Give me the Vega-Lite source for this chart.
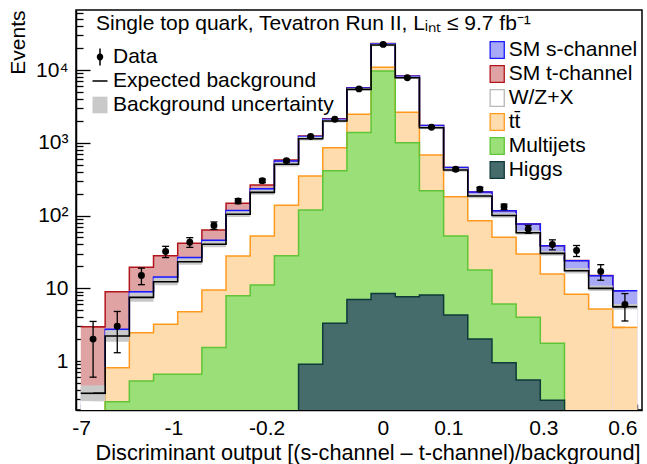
{
  "$schema": "https://vega.github.io/schema/vega-lite/v6.json",
  "width": 566,
  "height": 400,
  "autosize": {"type": "none"},
  "padding": {"left": 76, "top": 10, "right": 5, "bottom": 54},
  "background": "white",
  "title": {"text": "Single top quark, Tevatron Run II, L\u1d62\u2099\u209c \u2264 9.7 fb\u207b\u00b9", "anchor": "start", "frame": "group", "orient": "top", "offset": -32, "dx": 20, "fontSize": 21, "fontWeight": "normal", "color": "black", "font": "Liberation Sans"},
  "config": {
    "font": "Liberation Sans",
    "view": {"stroke": "black", "strokeWidth": 1.5},
    "axis": {"grid": false, "labelFontSize": 21, "titleFontSize": 21, "titleFontWeight": "normal", "labelColor": "black", "titleColor": "black", "domainColor": "black", "domainWidth": 1.5, "tickColor": "black", "tickWidth": 1.3, "labelFont": "Liberation Sans", "titleFont": "Liberation Sans"},
    "legend": {"labelFont": "Liberation Sans", "labelFontSize": 21, "labelColor": "black", "labelLimit": 400}
  },
  "datasets": {
    "stack": [
      {"bin":1,"proc":"Higgs","n":0.01},{"bin":1,"proc":"Multijets","n":0.01},{"bin":1,"proc":"tt\u0304","n":0.08},{"bin":1,"proc":"W/Z+X","n":0.26},{"bin":1,"proc":"SM s-channel","n":0.01},{"bin":1,"proc":"SM t-channel","n":2.59},
      {"bin":2,"proc":"Higgs","n":0.01},{"bin":2,"proc":"Multijets","n":0.266},{"bin":2,"proc":"tt\u0304","n":0.534},{"bin":2,"proc":"W/Z+X","n":1.40},{"bin":2,"proc":"SM s-channel","n":0.53},{"bin":2,"proc":"SM t-channel","n":6.23},
      {"bin":3,"proc":"Higgs","n":0.01},{"bin":3,"proc":"Multijets","n":0.52},{"bin":3,"proc":"tt\u0304","n":1.92},{"bin":3,"proc":"W/Z+X","n":5.05},{"bin":3,"proc":"SM s-channel","n":1.43},{"bin":3,"proc":"SM t-channel","n":10.47},
      {"bin":4,"proc":"Higgs","n":0.01},{"bin":4,"proc":"Multijets","n":0.65},{"bin":4,"proc":"tt\u0304","n":2.54},{"bin":4,"proc":"W/Z+X","n":9.1},{"bin":4,"proc":"SM s-channel","n":1.96},{"bin":4,"proc":"SM t-channel","n":13.74},
      {"bin":5,"proc":"Higgs","n":0.01},{"bin":5,"proc":"Multijets","n":0.65},{"bin":5,"proc":"tt\u0304","n":4.1},{"bin":5,"proc":"W/Z+X","n":18.44},{"bin":5,"proc":"SM s-channel","n":3.2},{"bin":5,"proc":"SM t-channel","n":15.1},
      {"bin":6,"proc":"Higgs","n":0.01},{"bin":6,"proc":"Multijets","n":1.53},{"bin":6,"proc":"tt\u0304","n":7.92},{"bin":6,"proc":"W/Z+X","n":30.74},{"bin":6,"proc":"SM s-channel","n":5.6},{"bin":6,"proc":"SM t-channel","n":17.4},
      {"bin":7,"proc":"Higgs","n":0.01},{"bin":7,"proc":"Multijets","n":7.89},{"bin":7,"proc":"tt\u0304","n":19.8},{"bin":7,"proc":"W/Z+X","n":76.3},{"bin":7,"proc":"SM s-channel","n":13.3},{"bin":7,"proc":"SM t-channel","n":29.7},
      {"bin":8,"proc":"Higgs","n":0.01},{"bin":8,"proc":"Multijets","n":11.09},{"bin":8,"proc":"tt\u0304","n":41.2},{"bin":8,"proc":"W/Z+X","n":155.7},{"bin":8,"proc":"SM s-channel","n":24.5},{"bin":8,"proc":"SM t-channel","n":29.5},
      {"bin":9,"proc":"Higgs","n":0.01},{"bin":9,"proc":"Multijets","n":27.99},{"bin":9,"proc":"tt\u0304","n":110},{"bin":9,"proc":"W/Z+X","n":368},{"bin":9,"proc":"SM s-channel","n":54},{"bin":9,"proc":"SM t-channel","n":19},
      {"bin":10,"proc":"Higgs","n":0.9},{"bin":10,"proc":"Multijets","n":118.1},{"bin":10,"proc":"tt\u0304","n":230},{"bin":10,"proc":"W/Z+X","n":788},{"bin":10,"proc":"SM s-channel","n":78},{"bin":10,"proc":"SM t-channel","n":23},
      {"bin":11,"proc":"Higgs","n":3.3},{"bin":11,"proc":"Multijets","n":407.7},{"bin":11,"proc":"tt\u0304","n":444},{"bin":11,"proc":"W/Z+X","n":1135},{"bin":11,"proc":"SM s-channel","n":110},{"bin":11,"proc":"SM t-channel","n":30},
      {"bin":12,"proc":"Higgs","n":7.0},{"bin":12,"proc":"Multijets","n":1373},{"bin":12,"proc":"tt\u0304","n":1090},{"bin":12,"proc":"W/Z+X","n":2950},{"bin":12,"proc":"SM s-channel","n":230},{"bin":12,"proc":"SM t-channel","n":50},
      {"bin":13,"proc":"Higgs","n":8.5},{"bin":13,"proc":"Multijets","n":9671.5},{"bin":13,"proc":"tt\u0304","n":1220},{"bin":13,"proc":"W/Z+X","n":11200},{"bin":13,"proc":"SM s-channel","n":900},{"bin":13,"proc":"SM t-channel","n":100},
      {"bin":14,"proc":"Higgs","n":7.65},{"bin":14,"proc":"Multijets","n":994.35},{"bin":14,"proc":"tt\u0304","n":1618},{"bin":14,"proc":"W/Z+X","n":5220},{"bin":14,"proc":"SM s-channel","n":360},{"bin":14,"proc":"SM t-channel","n":50},
      {"bin":15,"proc":"Higgs","n":8.07},{"bin":15,"proc":"Multijets","n":210.93},{"bin":15,"proc":"tt\u0304","n":460},{"bin":15,"proc":"W/Z+X","n":931},{"bin":15,"proc":"SM s-channel","n":110},{"bin":15,"proc":"SM t-channel","n":10},
      {"bin":16,"proc":"Higgs","n":4.29},{"bin":16,"proc":"Multijets","n":48.01},{"bin":16,"proc":"tt\u0304","n":128.7},{"bin":16,"proc":"W/Z+X","n":241},{"bin":16,"proc":"SM s-channel","n":34},{"bin":16,"proc":"SM t-channel","n":2},
      {"bin":17,"proc":"Higgs","n":2.0},{"bin":17,"proc":"Multijets","n":15.8},{"bin":17,"proc":"tt\u0304","n":67.1},{"bin":17,"proc":"W/Z+X","n":100.1},{"bin":17,"proc":"SM s-channel","n":25},{"bin":17,"proc":"SM t-channel","n":1},
      {"bin":18,"proc":"Higgs","n":0.95},{"bin":18,"proc":"Multijets","n":5.13},{"bin":18,"proc":"tt\u0304","n":44.12},{"bin":18,"proc":"W/Z+X","n":49.8},{"bin":18,"proc":"SM s-channel","n":16},{"bin":18,"proc":"SM t-channel","n":0.3},
      {"bin":19,"proc":"Higgs","n":0.55},{"bin":19,"proc":"Multijets","n":3.45},{"bin":19,"proc":"tt\u0304","n":25.6},{"bin":19,"proc":"W/Z+X","n":28.4},{"bin":19,"proc":"SM s-channel","n":18.4},{"bin":19,"proc":"SM t-channel","n":0.1},
      {"bin":20,"proc":"Higgs","n":0.29},{"bin":20,"proc":"Multijets","n":1.46},{"bin":20,"proc":"tt\u0304","n":13.95},{"bin":20,"proc":"W/Z+X","n":14.5},{"bin":20,"proc":"SM s-channel","n":8.2},{"bin":20,"proc":"SM t-channel","n":0.1},
      {"bin":21,"proc":"Higgs","n":0.01},{"bin":21,"proc":"Multijets","n":0.01},{"bin":21,"proc":"tt\u0304","n":8.24},{"bin":21,"proc":"W/Z+X","n":9.14},{"bin":21,"proc":"SM s-channel","n":6.5},{"bin":21,"proc":"SM t-channel","n":0.1},
      {"bin":22,"proc":"Higgs","n":0.01},{"bin":22,"proc":"Multijets","n":0.01},{"bin":22,"proc":"tt\u0304","n":5.17},{"bin":22,"proc":"W/Z+X","n":4.79},{"bin":22,"proc":"SM s-channel","n":4.92},{"bin":22,"proc":"SM t-channel","n":0.05},
      {"bin":23,"proc":"Higgs","n":0.01},{"bin":23,"proc":"Multijets","n":0.01},{"bin":23,"proc":"tt\u0304","n":2.88},{"bin":23,"proc":"W/Z+X","n":2.68},{"bin":23,"proc":"SM s-channel","n":3.67},{"bin":23,"proc":"SM t-channel","n":0.03}
    ],
    "bins": [
      {"bin":1,"data":2,"dlo":0.6,"dhi":3.5,"ulo":0.281,"uhi":0.461},
      {"bin":2,"data":3,"dlo":1.3,"dhi":4.8,"ulo":1.842,"uhi":2.652},
      {"bin":3,"data":15,"dlo":11.2,"dhi":18.9,"ulo":6.52,"uhi":8.63},
      {"bin":4,"data":32,"dlo":26.4,"dhi":37.7,"ulo":10.98,"uhi":13.78},
      {"bin":5,"data":43,"dlo":36.5,"dhi":49.6,"ulo":21.09,"uhi":25.52},
      {"bin":6,"data":73,"dlo":64.5,"dhi":81.5,"ulo":36.55,"uhi":44.22},
      {"bin":7,"data":158,"dlo":145.4,"dhi":170.6,"ulo":95.4,"uhi":113.4},
      {"bin":8,"data":300,"dlo":282.7,"dhi":317.3,"ulo":192.6,"uhi":224.6},
      {"bin":9,"data":565,"dlo":541,"dhi":589,"ulo":472.9,"uhi":541.4},
      {"bin":10,"data":1220,"dlo":1185,"dhi":1255,"ulo":1072.6,"uhi":1205.2},
      {"bin":11,"data":2100,"dlo":2054,"dhi":2146,"ulo":1895,"uhi":2090},
      {"bin":12,"data":5500,"dlo":5426,"dhi":5574,"ulo":5212,"uhi":5637},
      {"bin":13,"data":22500,"dlo":22350,"dhi":22650,"ulo":21250,"uhi":22984},
      {"bin":14,"data":7840,"dlo":7751,"dhi":7929,"ulo":7538,"uhi":8154},
      {"bin":15,"data":1630,"dlo":1590,"dhi":1670,"ulo":1533,"uhi":1690},
      {"bin":16,"data":432,"dlo":411,"dhi":453,"ulo":398.1,"uhi":447.3},
      {"bin":17,"data":229,"dlo":214,"dhi":244,"ulo":172.9,"uhi":198},
      {"bin":18,"data":132,"dlo":120.5,"dhi":143.5,"ulo":93.5,"uhi":107},
      {"bin":19,"data":65,"dlo":57,"dhi":73,"ulo":54.2,"uhi":62.1},
      {"bin":20,"data":40,"dlo":33.7,"dhi":46.3,"ulo":27.96,"uhi":32.6},
      {"bin":21,"data":33,"dlo":27.3,"dhi":38.7,"ulo":15.96,"uhi":18.97},
      {"bin":22,"data":17,"dlo":12.9,"dhi":21.1,"ulo":9.16,"uhi":10.88},
      {"bin":23,"data":6,"dlo":3.55,"dhi":8.45,"ulo":5.12,"uhi":6.08}
    ]
  },
  "layer": [
    {
      "data": {"name": "stack"},
      "transform": [{"stack": "n", "groupby": ["bin"], "as": ["lo", "hi"]}, {"filter": {"field": "proc", "equal": "SM t-channel"}}],
      "mark": {"type": "area", "interpolate": "step", "clip": true, "fill": "#e0a3a3", "strokeWidth": 0},
      "encoding": {
        "x": {"field": "bin", "type": "quantitative", "scale": {"domain": [0.5, 23.5], "nice": false, "zero": false},
          "axis": {"title": "Discriminant output [(s-channel \u2013 t-channel)/background]", "values": [0.5, 4.32, 8.18, 12.99, 15.7, 19.63, 23.5],
            "labelExpr": "datum.value < 1 ? '-7' : datum.value < 5 ? '-1' : datum.value < 9 ? '-0.2' : datum.value < 14 ? '0' : datum.value < 17 ? '0.1' : datum.value < 21 ? '0.3' : '0.6'",
            "tickSize": -6, "labelPadding": 13, "labelAngle": 0, "labelFlush": false, "labelOverlap": false,
            "labelAlign": {"condition": {"test": "datum.value > 23", "value": "right"}, "value": "center"},
            "titleAnchor": "end", "titleAlign": "right", "titleX": 564, "titleY": 49, "titleBaseline": "alphabetic", "titleFontSize": 21.7}},
        "y": {"field": "hi", "type": "quantitative", "stack": null, "scale": {"type": "log", "domain": [0.2122, 66800], "nice": false},
          "axis": {"title": "Events", "values": [0.3,0.4,0.5,0.6,0.7,0.8,0.9,1,2,3,4,5,6,7,8,9,10,20,30,40,50,60,70,80,90,100,200,300,400,500,600,700,800,900,1000,2000,3000,4000,5000,6000,7000,8000,9000,10000,20000,30000,40000,50000,60000],
            "labelExpr": "datum.value == 1 ? '1' : datum.value == 10 ? '10' : datum.value == 100 ? '10\u00b2' : datum.value == 1000 ? '10\u00b3' : datum.value == 10000 ? '10\u2074' : ''",
            "tickSize": {"condition": {"test": "datum.value == 1 || datum.value == 10 || datum.value == 100 || datum.value == 1000 || datum.value == 10000", "value": -14}, "value": -7},
            "labelPadding": 22, "labelOverlap": false, "labelFlush": false,
            "titleAngle": 270, "titleAlign": "right", "titleBaseline": "middle", "titleX": -58, "titleY": 0}}
      }
    },
    {
      "data": {"name": "stack"},
      "transform": [{"stack": "n", "groupby": ["bin"], "as": ["lo", "hi"]}, {"filter": {"field": "proc", "equal": "SM s-channel"}}],
      "mark": {"type": "area", "interpolate": "step", "clip": true, "fill": "#a9aaf7", "strokeWidth": 0},
      "encoding": {
        "x": {"field": "bin", "type": "quantitative", "scale": {"domain": [0.5, 23.5], "nice": false, "zero": false}},
        "y": {"field": "hi", "type": "quantitative", "stack": null, "title": "Events", "scale": {"type": "log", "domain": [0.2122, 66800], "nice": false}}
      }
    },
    {
      "data": {"name": "stack"},
      "transform": [{"stack": "n", "groupby": ["bin"], "as": ["lo", "hi"]}, {"filter": {"field": "proc", "equal": "W/Z+X"}}],
      "mark": {"type": "area", "interpolate": "step", "clip": true, "fill": "#ffffff", "strokeWidth": 0},
      "encoding": {
        "x": {"field": "bin", "type": "quantitative", "scale": {"domain": [0.5, 23.5], "nice": false, "zero": false}},
        "y": {"field": "hi", "type": "quantitative", "stack": null, "title": "Events", "scale": {"type": "log", "domain": [0.2122, 66800], "nice": false}}
      }
    },
    {
      "data": {"name": "stack"},
      "transform": [{"stack": "n", "groupby": ["bin"], "as": ["lo", "hi"]}, {"filter": {"field": "proc", "equal": "tt\u0304"}}],
      "mark": {"type": "area", "interpolate": "step", "clip": true, "fill": "#ffdcae", "strokeWidth": 0},
      "encoding": {
        "x": {"field": "bin", "type": "quantitative", "scale": {"domain": [0.5, 23.5], "nice": false, "zero": false}},
        "y": {"field": "hi", "type": "quantitative", "stack": null, "title": "Events", "scale": {"type": "log", "domain": [0.2122, 66800], "nice": false}}
      }
    },
    {
      "data": {"name": "stack"},
      "transform": [{"stack": "n", "groupby": ["bin"], "as": ["lo", "hi"]}, {"filter": {"field": "proc", "equal": "Multijets"}}],
      "mark": {"type": "area", "interpolate": "step", "clip": true, "fill": "#9adf78", "strokeWidth": 0},
      "encoding": {
        "x": {"field": "bin", "type": "quantitative", "scale": {"domain": [0.5, 23.5], "nice": false, "zero": false}},
        "y": {"field": "hi", "type": "quantitative", "stack": null, "title": "Events", "scale": {"type": "log", "domain": [0.2122, 66800], "nice": false}}
      }
    },
    {
      "data": {"name": "stack"},
      "transform": [{"stack": "n", "groupby": ["bin"], "as": ["lo", "hi"]}, {"filter": {"field": "proc", "equal": "Higgs"}}],
      "mark": {"type": "area", "interpolate": "step", "clip": true, "fill": "#466b6b", "strokeWidth": 0},
      "encoding": {
        "x": {"field": "bin", "type": "quantitative", "scale": {"domain": [0.5, 23.5], "nice": false, "zero": false}},
        "y": {"field": "hi", "type": "quantitative", "stack": null, "title": "Events", "scale": {"type": "log", "domain": [0.2122, 66800], "nice": false}}
      }
    },
    {
      "data": {"name": "stack"},
      "transform": [{"stack": "n", "groupby": ["bin"], "as": ["lo", "hi"]}, {"filter": "datum.bin == 1 || datum.bin == 23"}],
      "mark": {"type": "bar", "width": 24.6087, "clip": true, "strokeWidth": 0},
      "encoding": {
        "x": {"field": "bin", "type": "quantitative", "scale": {"domain": [0.5, 23.5], "nice": false, "zero": false}},
        "y": {"field": "hi", "type": "quantitative", "stack": null, "title": "Events", "scale": {"type": "log", "domain": [0.2122, 66800], "nice": false}},
        "fill": {"field": "proc", "type": "nominal", "scale": {"domain": ["SM s-channel", "SM t-channel", "W/Z+X", "tt\u0304", "Multijets", "Higgs"], "range": ["#a9aaf7", "#e0a3a3", "#ffffff", "#ffdcae", "#9adf78", "#466b6b"]},
          "legend": {"title": null, "orient": "none", "legendX": 410.7, "legendY": 29.5, "direction": "vertical", "symbolSize": 276, "symbolType": "M-0.85,-1H0.85V1H-0.85Z", "labelOffset": 1, "rowPadding": 1, "padding": 0, "symbolOpacity": 1, "symbolStrokeWidth": 1.3}},
        "order": {"field": "hi", "sort": "descending"}
      }
    },
    {
      "data": {"name": "stack"},
      "transform": [{"stack": "n", "groupby": ["bin"], "as": ["lo", "hi"]}, {"filter": {"field": "proc", "equal": "SM t-channel"}}],
      "mark": {"type": "line", "interpolate": "step", "clip": true, "stroke": "#b3141b", "strokeWidth": 1.5},
      "encoding": {
        "x": {"field": "bin", "type": "quantitative", "scale": {"domain": [0.5, 23.5], "nice": false, "zero": false}},
        "y": {"field": "hi", "type": "quantitative", "title": "Events", "scale": {"type": "log", "domain": [0.2122, 66800], "nice": false}}
      }
    },
    {
      "data": {"name": "stack"},
      "transform": [{"stack": "n", "groupby": ["bin"], "as": ["lo", "hi"]}, {"filter": "datum.proc == 'SM t-channel' && datum.bin == 1"}],
      "mark": {"type": "tick", "orient": "horizontal", "size": 24.6, "thickness": 1.5, "color": "#b3141b", "opacity": 1, "clip": true},
      "encoding": {
        "x": {"field": "bin", "type": "quantitative", "scale": {"domain": [0.5, 23.5], "nice": false, "zero": false}},
        "y": {"field": "hi", "type": "quantitative", "title": "Events", "scale": {"type": "log", "domain": [0.2122, 66800], "nice": false}}
      }
    },
    {
      "data": {"name": "stack"},
      "transform": [{"stack": "n", "groupby": ["bin"], "as": ["lo", "hi"]}, {"filter": {"field": "proc", "equal": "SM s-channel"}}],
      "mark": {"type": "line", "interpolate": "step", "clip": true, "stroke": "#1a1aff", "strokeWidth": 1.5},
      "encoding": {
        "x": {"field": "bin", "type": "quantitative", "scale": {"domain": [0.5, 23.5], "nice": false, "zero": false}},
        "y": {"field": "hi", "type": "quantitative", "title": "Events", "scale": {"type": "log", "domain": [0.2122, 66800], "nice": false}}
      }
    },
    {
      "data": {"name": "stack"},
      "transform": [{"stack": "n", "groupby": ["bin"], "as": ["lo", "hi"]}, {"filter": "datum.proc == 'SM s-channel' && datum.bin == 23"}],
      "mark": {"type": "tick", "orient": "horizontal", "size": 24.6, "thickness": 1.5, "color": "#1a1aff", "opacity": 1, "clip": true},
      "encoding": {
        "x": {"field": "bin", "type": "quantitative", "scale": {"domain": [0.5, 23.5], "nice": false, "zero": false}},
        "y": {"field": "hi", "type": "quantitative", "title": "Events", "scale": {"type": "log", "domain": [0.2122, 66800], "nice": false}}
      }
    },
    {
      "data": {"name": "stack"},
      "transform": [{"stack": "n", "groupby": ["bin"], "as": ["lo", "hi"]}, {"filter": {"field": "proc", "equal": "tt\u0304"}}],
      "mark": {"type": "line", "interpolate": "step", "clip": true, "stroke": "#ff9a1f", "strokeWidth": 1.5},
      "encoding": {
        "x": {"field": "bin", "type": "quantitative", "scale": {"domain": [0.5, 23.5], "nice": false, "zero": false}},
        "y": {"field": "hi", "type": "quantitative", "title": "Events", "scale": {"type": "log", "domain": [0.2122, 66800], "nice": false}}
      }
    },
    {
      "data": {"name": "stack"},
      "transform": [{"stack": "n", "groupby": ["bin"], "as": ["lo", "hi"]}, {"filter": "datum.proc == 'tt\u0304' && datum.bin == 23"}],
      "mark": {"type": "tick", "orient": "horizontal", "size": 24.6, "thickness": 1.5, "color": "#ff9a1f", "opacity": 1, "clip": true},
      "encoding": {
        "x": {"field": "bin", "type": "quantitative", "scale": {"domain": [0.5, 23.5], "nice": false, "zero": false}},
        "y": {"field": "hi", "type": "quantitative", "title": "Events", "scale": {"type": "log", "domain": [0.2122, 66800], "nice": false}}
      }
    },
    {
      "data": {"name": "stack"},
      "transform": [{"stack": "n", "groupby": ["bin"], "as": ["lo", "hi"]}, {"filter": {"field": "proc", "equal": "Multijets"}}],
      "mark": {"type": "line", "interpolate": "step", "clip": true, "stroke": "#5fc536", "strokeWidth": 1.5},
      "encoding": {
        "x": {"field": "bin", "type": "quantitative", "scale": {"domain": [0.5, 23.5], "nice": false, "zero": false}},
        "y": {"field": "hi", "type": "quantitative", "title": "Events", "scale": {"type": "log", "domain": [0.2122, 66800], "nice": false}}
      }
    },
    {
      "data": {"name": "stack"},
      "transform": [{"stack": "n", "groupby": ["bin"], "as": ["lo", "hi"]}, {"filter": {"field": "proc", "equal": "Higgs"}}],
      "mark": {"type": "line", "interpolate": "step", "clip": true, "stroke": "#0e3a3a", "strokeWidth": 1.5},
      "encoding": {
        "x": {"field": "bin", "type": "quantitative", "scale": {"domain": [0.5, 23.5], "nice": false, "zero": false}},
        "y": {"field": "hi", "type": "quantitative", "title": "Events", "scale": {"type": "log", "domain": [0.2122, 66800], "nice": false}}
      }
    },
    {
      "data": {"name": "bins"},
      "mark": {"type": "area", "interpolate": "step", "clip": true, "fill": "#c9c9c9", "strokeWidth": 0},
      "encoding": {
        "x": {"field": "bin", "type": "quantitative", "scale": {"domain": [0.5, 23.5], "nice": false, "zero": false}},
        "y": {"field": "uhi", "type": "quantitative", "title": "Events", "scale": {"type": "log", "domain": [0.2122, 66800], "nice": false}},
        "y2": {"field": "ulo"}
      }
    },
    {
      "data": {"name": "bins"},
      "transform": [{"filter": "datum.bin == 1 || datum.bin == 23"}],
      "mark": {"type": "bar", "width": 24.6087, "clip": true, "fill": "#c9c9c9", "strokeWidth": 0},
      "encoding": {
        "x": {"field": "bin", "type": "quantitative", "scale": {"domain": [0.5, 23.5], "nice": false, "zero": false}},
        "y": {"field": "uhi", "type": "quantitative", "title": "Events", "scale": {"type": "log", "domain": [0.2122, 66800], "nice": false}},
        "y2": {"field": "ulo"}
      }
    },
    {
      "data": {"name": "stack"},
      "transform": [{"stack": "n", "groupby": ["bin"], "as": ["lo", "hi"]}, {"filter": {"field": "proc", "equal": "W/Z+X"}}],
      "mark": {"type": "line", "interpolate": "step", "clip": true, "stroke": "black", "strokeWidth": 1.6},
      "encoding": {
        "x": {"field": "bin", "type": "quantitative", "scale": {"domain": [0.5, 23.5], "nice": false, "zero": false}},
        "y": {"field": "hi", "type": "quantitative", "title": "Events", "scale": {"type": "log", "domain": [0.2122, 66800], "nice": false}}
      }
    },
    {
      "data": {"name": "stack"},
      "transform": [{"stack": "n", "groupby": ["bin"], "as": ["lo", "hi"]}, {"filter": "datum.proc == 'W/Z+X' && (datum.bin == 1 || datum.bin == 23)"}],
      "mark": {"type": "tick", "orient": "horizontal", "size": 24.6, "thickness": 1.6, "color": "black", "opacity": 1, "clip": true},
      "encoding": {
        "x": {"field": "bin", "type": "quantitative", "scale": {"domain": [0.5, 23.5], "nice": false, "zero": false}},
        "y": {"field": "hi", "type": "quantitative", "title": "Events", "scale": {"type": "log", "domain": [0.2122, 66800], "nice": false}}
      }
    },
    {
      "data": {"name": "bins"},
      "mark": {"type": "rule", "color": "black", "strokeWidth": 1.3, "clip": true},
      "encoding": {
        "x": {"field": "bin", "type": "quantitative", "scale": {"domain": [0.5, 23.5], "nice": false, "zero": false}},
        "y": {"field": "dlo", "type": "quantitative", "title": "Events", "scale": {"type": "log", "domain": [0.2122, 66800], "nice": false}},
        "y2": {"field": "dhi"}
      }
    },
    {
      "data": {"name": "bins"},
      "mark": {"type": "tick", "orient": "horizontal", "size": 7, "thickness": 1.3, "color": "black", "opacity": 1, "clip": true},
      "encoding": {
        "x": {"field": "bin", "type": "quantitative", "scale": {"domain": [0.5, 23.5], "nice": false, "zero": false}},
        "y": {"field": "dlo", "type": "quantitative", "title": "Events", "scale": {"type": "log", "domain": [0.2122, 66800], "nice": false}}
      }
    },
    {
      "data": {"name": "bins"},
      "mark": {"type": "tick", "orient": "horizontal", "size": 7, "thickness": 1.3, "color": "black", "opacity": 1, "clip": true},
      "encoding": {
        "x": {"field": "bin", "type": "quantitative", "scale": {"domain": [0.5, 23.5], "nice": false, "zero": false}},
        "y": {"field": "dhi", "type": "quantitative", "title": "Events", "scale": {"type": "log", "domain": [0.2122, 66800], "nice": false}}
      }
    },
    {
      "data": {"name": "bins"},
      "mark": {"type": "point", "filled": true, "color": "black", "size": 48, "opacity": 1, "strokeWidth": 0, "clip": true},
      "encoding": {
        "x": {"field": "bin", "type": "quantitative", "scale": {"domain": [0.5, 23.5], "nice": false, "zero": false}},
        "y": {"field": "data", "type": "quantitative", "title": "Events", "scale": {"type": "log", "domain": [0.2122, 66800], "nice": false}}
      }
    },
    {
      "data": {"values": [{"leg": "Data"}, {"leg": "Expected background"}, {"leg": "Background uncertainty"}]},
      "transform": [{"filter": "false"}],
      "mark": {"type": "point", "filled": true, "opacity": 1, "strokeWidth": 0},
      "encoding": {
        "color": {"field": "leg", "type": "nominal",
          "scale": {"domain": ["Data", "Expected background", "Background uncertainty"], "range": ["black", "black", "#c9c9c9"]},
          "legend": {"title": null, "orient": "none", "legendX": 13.5, "legendY": 36.5, "direction": "vertical", "symbolSize": 289, "labelOffset": 2.5, "rowPadding": 2, "padding": 0, "symbolOpacity": 1, "symbolStrokeWidth": 0}},
        "shape": {"field": "leg", "type": "nominal",
          "scale": {"domain": ["Data", "Expected background", "Background uncertainty"], "range": ["M-0.09,-1H0.09V-0.4A0.42,0.42 0 0 1 0.09,0.4V1H-0.09V0.4A0.42,0.42 0 0 1 -0.09,-0.4Z", "M-0.88,-0.09H0.88V0.09H-0.88Z", "M-0.88,-0.98H0.88V0.98H-0.88Z"]},
          "legend": {"title": null, "orient": "none", "legendX": 13.5, "legendY": 36.5, "direction": "vertical", "symbolSize": 289, "labelOffset": 2.5, "rowPadding": 2, "padding": 0, "symbolOpacity": 1, "symbolStrokeWidth": 0}}
      }
    },
    {
      "data": {"values": [{"proc": "Higgs"}]},
      "transform": [{"filter": "false"}],
      "mark": {"type": "point", "filled": true, "opacity": 1, "strokeWidth": 1.3, "shape": "M-0.85,-1H0.85V1H-0.85Z"},
      "encoding": {
        "fill": {"field": "proc", "type": "nominal",
          "scale": {"domain": ["SM s-channel", "SM t-channel", "W/Z+X", "tt\u0304", "Multijets", "Higgs"], "range": ["#a9aaf7", "#e0a3a3", "#ffffff", "#ffdcae", "#9adf78", "#466b6b"]},
          "legend": {"title": null, "orient": "none", "legendX": 410.7, "legendY": 29.5, "direction": "vertical", "symbolSize": 276, "symbolType": "M-0.85,-1H0.85V1H-0.85Z", "labelOffset": 1, "rowPadding": 1, "padding": 0, "symbolOpacity": 1, "symbolStrokeWidth": 1.3}},
        "stroke": {"field": "proc", "type": "nominal",
          "scale": {"domain": ["SM s-channel", "SM t-channel", "W/Z+X", "tt\u0304", "Multijets", "Higgs"], "range": ["#1a1aff", "#b3141b", "#b8b8b8", "#ff9a1f", "#5fc536", "#0e3a3a"]},
          "legend": {"title": null, "orient": "none", "legendX": 410.7, "legendY": 29.5, "direction": "vertical", "symbolSize": 276, "symbolType": "M-0.85,-1H0.85V1H-0.85Z", "labelOffset": 1, "rowPadding": 1, "padding": 0, "symbolOpacity": 1, "symbolStrokeWidth": 1.3}}
      }
    }
  ]
}
